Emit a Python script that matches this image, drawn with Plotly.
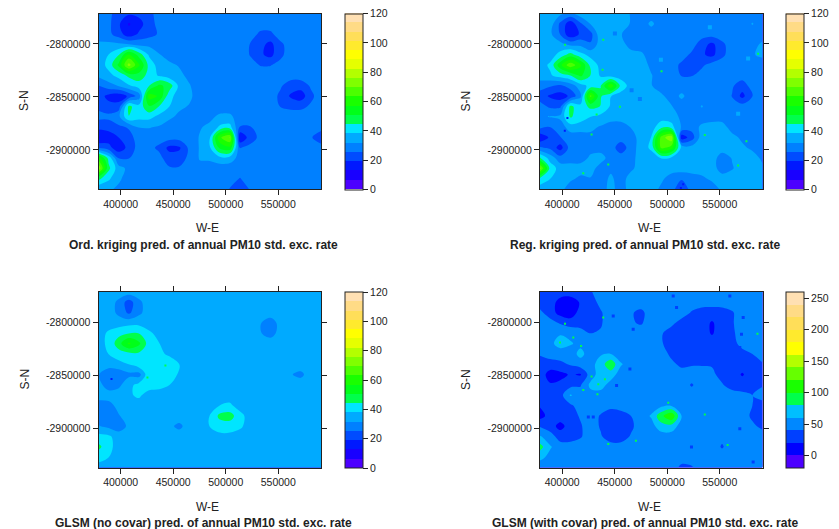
import plotly.graph_objects as go

W, H = 839, 529
X_RANGE = [378900, 590700]
Y_RANGE = [-2937000, -2771200]
grid_x = [378900, 388527, 398155, 407782, 417409, 427036, 436664, 446291, 455918, 465545, 475173, 484800,
          494427, 504055, 513682, 523309, 532936, 542564, 552191, 561818, 571445, 581073, 590700]
grid_y = [-2771200, -2780953, -2790706, -2800459, -2810212, -2819965, -2829718, -2839471, -2849224,
          -2858976, -2868729, -2878482, -2888235, -2897988, -2907741, -2917494, -2927247, -2937000]

ord_kriging = [
 [28,27,22,20,21,24,27,28,28,28,28,28,28,28,28,28,28,28,28,28,28,28,28],
 [28,27,20,12,16,23,27,28,28,28,28,28,28,28,28,28,28,28,28,28,28,28,28],
 [28,27,22,15,20,23,26,28,28,28,28,28,28,28,28,28,24,24,28,28,28,28,28],
 [33,33,33,32,30,30,28,28,28,28,28,28,28,28,28,25,21,17,24,28,28,28,28],
 [35,38,44,58,48,37,32,29,28,28,28,28,28,28,28,25,20,17,24,28,28,28,28],
 [34,40,52,72,58,42,35,33,31,28,28,28,28,28,28,27,25,25,27,28,28,28,28],
 [33,36,40,46,48,42,37,34,33,30,28,28,28,28,28,28,28,28,28,28,28,28,28],
 [25,29,32,37,41,44,52,48,36,32,28,28,28,28,28,28,28,28,26,22,22,26,28],
 [22,17,15,20,28,60,56,40,35,33,28,28,28,28,28,28,28,28,24,18,15,24,28],
 [24,21,22,46,40,50,44,38,33,31,28,28,28,28,28,28,28,28,25,24,24,26,28],
 [27,27,30,44,40,40,36,33,30,28,28,30,33,33,28,28,28,28,28,28,28,28,28],
 [21,21,24,26,32,32,31,28,28,28,31,33,39,40,25,25,28,28,28,28,28,28,28],
 [12,16,19,23,28,28,28,28,28,28,32,37,62,70,13,22,27,28,28,28,28,26,21],
 [24,21,15,21,28,27,24,17,18,27,32,37,52,55,25,27,28,28,28,28,28,28,28],
 [60,42,25,25,28,28,27,22,22,27,32,33,36,35,29,28,28,28,28,28,28,28,28],
 [75,46,34,30,28,28,28,26,26,28,30,28,28,28,28,28,28,28,28,28,28,28,28],
 [46,39,33,28,28,28,28,28,28,28,28,28,28,27,25,28,28,28,28,28,28,28,28],
 [33,33,30,28,28,28,28,28,28,28,28,28,28,25,20,26,28,28,28,28,28,28,28],
]
reg_kriging = [
 [35,35,33,30,35,35,35,35,35,31,28,28,28,28,28,28,28,28,28,28,28,28,28],
 [35,35,24,15,24,32,35,35,35,31,28,33,28,28,28,28,28,28,28,28,28,32,28],
 [35,33,25,14,20,23,36,35,32,28,28,28,28,28,28,28,28,28,28,28,28,28,28],
 [35,35,34,30,30,26,35,35,35,28,28,28,28,28,28,28,22,17,24,28,28,29,33],
 [35,35,40,47,40,36,35,35,35,35,33,28,28,28,28,24,20,17,24,28,28,31,33],
 [35,39,55,68,58,42,36,35,35,35,35,30,28,28,24,19,24,28,28,28,28,28,28],
 [35,37,41,44,52,44,37,35,35,35,35,32,28,28,25,25,28,28,28,28,28,28,28],
 [28,26,24,28,35,40,44,62,42,35,34,32,28,28,28,28,28,28,28,26,22,28,28],
 [22,18,16,20,30,65,45,38,35,35,35,35,33,28,33,28,28,28,28,25,17,25,28],
 [28,24,24,46,40,46,44,37,35,35,35,35,35,32,28,28,32,28,28,28,28,28,28],
 [30,32,33,45,41,38,36,35,35,35,35,35,35,35,30,28,28,28,28,28,28,28,28],
 [27,25,28,35,35,33,31,28,28,32,35,35,42,40,31,28,33,35,35,28,28,28,28],
 [14,20,25,28,28,30,28,28,28,28,35,38,66,75,15,22,35,35,35,34,30,28,26],
 [26,24,16,28,28,29,28,28,22,28,35,39,65,60,36,34,35,35,35,35,33,30,28],
 [45,35,28,28,28,33,35,28,28,29,35,35,38,36,35,35,35,35,28,32,34,35,30],
 [72,42,35,35,35,35,28,30,28,30,35,35,35,35,35,35,35,35,28,31,35,35,33],
 [42,38,35,33,30,31,28,33,28,35,35,35,33,28,26,28,30,33,35,35,35,35,35],
 [35,35,34,28,28,28,28,34,28,35,35,35,30,28,20,28,28,28,33,35,35,35,35],
]
glsm_no_covar = [
 [35,35,35,35,35,35,35,35,35,35,35,35,35,35,35,35,35,35,35,35,35,35,35],
 [35,35,30,22,30,35,35,35,35,35,35,35,35,35,35,35,35,35,35,35,35,35,35],
 [35,35,30,24,30,35,35,35,35,35,35,35,35,35,35,35,35,35,35,35,35,35,35],
 [35,35,35,36,36,35,35,35,35,35,35,35,35,35,35,35,32,28,34,35,35,35,35],
 [35,39,42,44,44,39,36,35,35,35,35,35,35,35,35,35,32,29,34,35,35,35,35],
 [36,39,48,58,52,41,38,36,35,35,35,35,35,35,35,35,35,35,35,35,35,35,35],
 [35,38,41,42,43,41,39,37,35,35,35,35,35,35,35,35,35,35,35,35,35,35,35],
 [35,35,36,38,42,42,43,41,38,35,35,35,35,35,35,35,35,35,35,35,35,35,35],
 [32,26,27,30,29,43,42,41,37,35,35,35,35,35,35,35,35,35,35,32,30,35,35],
 [34,28,30,36,40,41,40,38,35,35,35,35,35,35,35,35,35,35,35,35,35,35,35],
 [35,35,35,37,39,35,35,35,35,35,35,35,35,35,35,35,35,35,35,35,35,35,35],
 [28,29,34,35,35,35,35,35,35,35,35,35,38,39,35,35,35,35,35,35,35,35,35],
 [28,28,31,35,35,35,35,35,35,35,35,38,46,47,40,35,35,35,35,35,35,35,35],
 [32,30,28,33,35,35,35,33,30,35,35,38,41,41,39,35,35,35,35,35,35,35,35],
 [40,39,35,35,35,35,35,35,35,35,35,35,36,36,35,35,35,35,35,35,35,35,35],
 [46,40,35,35,35,35,35,35,35,35,35,35,35,35,35,35,35,35,35,35,35,35,35],
 [40,38,35,35,35,35,35,35,35,35,35,35,35,35,35,35,35,35,35,35,35,35,35],
 [36,35,35,35,35,35,35,35,35,35,35,35,35,35,35,35,35,35,35,35,35,35,35],
]
glsm_with_covar = [
 [30,30,30,30,30,38,50,50,50,50,50,50,42,50,50,50,50,50,50,50,50,50,50],
 [30,30,12,8,22,32,45,50,50,50,50,50,50,50,50,50,50,50,50,50,50,50,50],
 [45,30,12,8,28,30,38,50,50,42,35,50,50,50,50,38,30,28,30,38,50,50,50],
 [50,48,38,30,30,30,38,50,50,42,38,50,50,45,32,30,28,18,28,38,50,50,50],
 [50,50,58,55,50,40,42,50,50,50,50,50,42,30,30,30,30,18,30,36,50,50,50],
 [50,55,68,62,55,50,50,50,50,50,50,50,42,30,28,20,30,30,30,35,45,50,50],
 [42,50,50,50,66,50,58,60,50,50,50,50,50,35,30,30,30,30,30,30,35,40,50],
 [30,30,35,42,50,52,70,95,62,50,50,50,50,45,35,38,38,38,30,30,30,30,38],
 [30,12,14,22,18,50,70,70,50,50,50,50,50,50,50,50,50,45,32,30,18,30,32],
 [30,22,25,33,38,65,68,52,50,50,50,50,50,50,50,38,50,50,42,30,30,30,38],
 [30,30,32,62,50,52,52,50,50,50,50,50,50,50,50,50,50,50,50,50,45,40,50],
 [22,30,32,36,50,50,50,45,50,50,50,50,55,58,50,50,50,45,50,50,50,40,30],
 [12,28,30,32,42,50,38,30,30,40,50,62,95,118,60,50,50,50,50,50,50,36,30],
 [38,28,14,28,38,50,38,30,28,36,50,52,72,72,50,50,50,50,50,50,50,44,35],
 [62,50,30,30,38,50,42,30,30,42,50,50,50,50,50,50,50,50,45,50,50,50,50],
 [88,62,50,50,50,50,50,48,48,50,50,50,50,50,50,50,50,50,38,50,50,50,50],
 [65,55,50,50,50,50,50,50,50,50,50,50,50,50,50,50,50,50,50,50,50,50,50],
 [50,50,50,50,50,50,50,50,50,50,50,50,50,50,35,38,50,50,50,50,50,50,50],
]

reg_spot_x = [439100, 402700, 428000, 420100, 432800, 443900, 586500, 535800, 575400, 567500, 455000, 438500, 494600]
reg_spot_y = [-2796000, -2800700, -2885500, -2922200, -2866600, -2913800, -2809200, -2886100, -2891800, -2914700, -2859400, -2824300, -2825800]
reg_dark_x = [515200, 513000, 402500, 405000]
reg_dark_y = [-2932600, -2936000, -2882000, -2870000]
reg_pale_x = [540600, 577000, 567500, 494000]
reg_pale_y = [-2784100, -2813600, -2866000, -2815000]
reg_mid_x = [466100, 450200, 474000, 507300]
reg_mid_y = [-2843800, -2790000, -2852000, -2813300]
with_spot_x = [439100, 402700, 397900, 410600, 418000, 428000, 434400, 440700, 420100, 433600, 501000, 535800, 443900, 470200, 557500, 585900]
with_spot_y = [-2795400, -2801100, -2819000, -2814300, -2822200, -2851100, -2858300, -2853600, -2863700, -2867800, -2875900, -2886900, -2914800, -2911700, -2915800, -2810700]
with_dark_x = [508900, 570700, 572300, 569100, 467600, 448600, 429600, 424900, 569100, 523100, 581800, 451800, 464500, 505700, 559600]
with_dark_y = [-2785900, -2811000, -2795300, -2823600, -2806300, -2793800, -2889400, -2889400, -2900400, -2917600, -2931700, -2859600, -2843900, -2775000, -2775000]
no_spot_x = [442600, 425500]
no_spot_y = [-2840600, -2851900]
no_dark_x = [391300]
no_dark_y = [-2853500]

palette_19 = ["#4C00FF", "#1900FF", "#0019FF", "#004CFF", "#0080FF", "#00AAFF", "#00E5FF",
              "#00FF4C", "#00FF19", "#19FF00", "#4CFF00", "#80FF00", "#B3FF00", "#E5FF00",
              "#FFFF00", "#FFEA2D", "#FFDE59", "#FFDB86", "#FFE0B3"]
palette_14 = ["#4C00FF", "#0000FF", "#0040FF", "#0088FF", "#00BFFF", "#00FF4C", "#19FF00",
              "#66FF00", "#B3FF00", "#FFFF00", "#FFEA2D", "#FFDE59", "#FFDB86", "#FFE0B3"]

titles = ["Ord. kriging pred. of annual PM10 std. exc. rate",
          "Reg. kriging pred. of annual PM10 std. exc. rate",
          "GLSM (no covar) pred. of annual PM10 std. exc. rate",
          "GLSM (with covar) pred. of annual PM10 std. exc. rate"]
x_ticks = [400000, 450000, 500000, 550000]
y_ticks = [-2800000, -2850000, -2900000]
key_ticks = [0, 20, 40, 60, 80, 100, 120]
key_ticks_wide = [0, 50, 100, 150, 200, 250]

FONT = "Liberation Sans, Arial, sans-serif"
INK = "#222222"


def stepped(colors):
    n = len(colors)
    out = []
    for i, c in enumerate(colors):
        out += [[i / n, c], [(i + 1) / n, c]]
    return out


panels = [
    dict(z=ord_kriging, left=98.5, top=13.5, key=345, lo=0, hi=120, colors=palette_19, ticks=key_ticks, cx=203),
    dict(z=reg_kriging, left=540, top=13.5, key=786, lo=0, hi=120, colors=palette_19, ticks=key_ticks, cx=645),
    dict(z=glsm_no_covar, left=98.5, top=292, key=345, lo=0, hi=120, colors=palette_19, ticks=key_ticks, cx=203),
    dict(z=glsm_with_covar, left=540, top=292, key=786, lo=-20, hi=260, colors=palette_14, ticks=key_ticks_wide, cx=645),
]
PW, PH = 222.5, 175.5

fig = go.Figure()
layout = dict(width=W, height=H, margin=dict(l=0, r=0, t=0, b=0, autoexpand=False), paper_bgcolor="white",
              plot_bgcolor="white", showlegend=False, font=dict(family=FONT, size=10.5, color=INK))
notes = []
for i, p in enumerate(panels, start=1):
    sfx = "" if i == 1 else str(i)
    n = len(p["colors"])
    fig.add_trace(go.Contour(
        x=grid_x, y=grid_y, z=p["z"], xaxis="x" + sfx, yaxis="y" + sfx,
        zmin=p["lo"], zmax=p["hi"], colorscale=stepped(p["colors"]), autocontour=False,
        contours=dict(start=p["lo"], end=p["hi"], size=(p["hi"] - p["lo"]) / n, coloring="fill", showlines=False),
        line=dict(width=0, smoothing=1.0), hoverinfo="skip",
        colorbar=dict(x=p["key"] / W, xanchor="left", y=1 - p["top"] / H, yanchor="top",
                      lenmode="pixels", len=PH, thicknessmode="pixels", thickness=18,
                      xpad=0, ypad=0, outlinewidth=1, outlinecolor="#222", tickmode="array",
                      tickvals=p["ticks"], ticks="outside", ticklen=5, tickwidth=1, tickcolor="#222",
                      tickfont=dict(family=FONT, size=10.5, color=INK)),
    ))
    layout["xaxis" + sfx] = dict(domain=[p["left"] / W, (p["left"] + PW) / W], range=X_RANGE,
                                 anchor="y" + sfx, tickmode="array", tickvals=x_ticks,
                                 ticktext=[str(v) for v in x_ticks], ticks="outside", ticklen=5,
                                 tickcolor="#222", showline=True, linecolor="#222", linewidth=1,
                                 mirror="ticks", showgrid=False, zeroline=False,
                                 tickfont=dict(family=FONT, size=10.5, color=INK))
    layout["yaxis" + sfx] = dict(domain=[1 - (p["top"] + PH) / H, 1 - p["top"] / H], range=Y_RANGE,
                                 anchor="x" + sfx, tickmode="array", tickvals=y_ticks,
                                 ticktext=[str(v) for v in y_ticks], ticks="outside", ticklen=5,
                                 tickcolor="#222", showline=True, linecolor="#222", linewidth=1,
                                 mirror="ticks", showgrid=False, zeroline=False,
                                 tickfont=dict(family=FONT, size=10.5, color=INK))
    notes.append(dict(text="W-E", xref="paper", yref="paper", x=(p["left"] + PW / 2 - 2) / W,
                      y=1 - (p["top"] + 214.5) / H, xanchor="center", yanchor="middle", showarrow=False,
                      font=dict(size=12, color=INK)))
    notes.append(dict(text="S-N", xref="paper", yref="paper", x=(p["left"] - 74.5) / W,
                      y=1 - (p["top"] + 87.5) / H, xanchor="center", yanchor="middle", textangle=-90,
                      showarrow=False, font=dict(size=12, color=INK)))
    notes.append(dict(text="<b>" + titles[i - 1] + "</b>", xref="paper", yref="paper", x=p["cx"] / W,
                      y=1 - (p["top"] + 231) / H, xanchor="center", yanchor="middle", showarrow=False,
                      font=dict(size=12, color=INK)))

specks = [("2", reg_spot_x, reg_spot_y, "#00FF4C", 2), ("2", reg_dark_x, reg_dark_y, "#0019FF", 2),
          ("2", reg_pale_x, reg_pale_y, "#00AAFF", 4), ("2", reg_mid_x, reg_mid_y, "#0080FF", 4),
          ("3", no_spot_x, no_spot_y, "#00FF4C", 2), ("3", no_dark_x, no_dark_y, "#0019FF", 2),
          ("4", with_spot_x, with_spot_y, "#00FF4C", 2), ("4", with_dark_x, with_dark_y, "#0040FF", 3)]
for sfx, sx, sy, col, size in specks:
    fig.add_trace(go.Scatter(x=sx, y=sy, xaxis="x" + sfx, yaxis="y" + sfx, mode="markers", hoverinfo="skip",
                             marker=dict(symbol="square", size=size, color=col, line=dict(width=0))))

layout["annotations"] = notes
fig.update_layout(**layout)
fig.write_html("out.html", config={"displayModeBar": False},
               post_script="document.body.style.margin='0';window.dispatchEvent(new Event('resize'));")
